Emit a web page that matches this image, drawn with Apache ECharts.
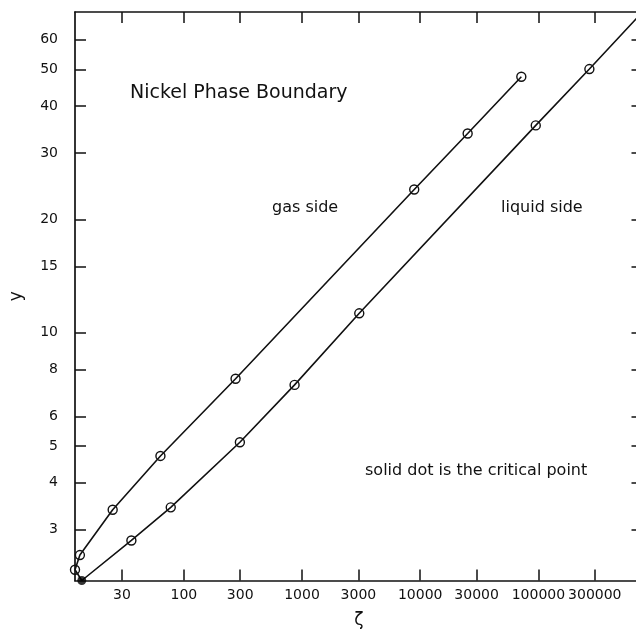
<!DOCTYPE html>
<html>
<head>
<meta charset="utf-8">
<script src="https://cdn.jsdelivr.net/npm/echarts@6/dist/echarts.min.js"></script>
<style>
  html, body { margin: 0; padding: 0; background: #fff; overflow: hidden; }
  #chart { width: 652px; height: 630px; }
</style>
</head>
<body>
<div id="chart"></div>
<script>
// Nickel phase boundary: zeta vs y, log-log
const criticalPoint = [13.7, 2.2];
const gasZeta = [12, 13.2, 25, 63.4, 274, 8900, 25200, 71700];
const gasY = [2.35, 2.57, 3.39, 4.71, 7.55, 24.0, 33.8, 47.8];
const liquidZeta = [36, 77.5, 298, 865, 3050, 95000, 270000, 760000];
const liquidY = [2.81, 3.44, 5.12, 7.27, 11.26, 35.5, 50.1, 71];
const liquidMarked = [true, true, true, true, true, true, true, false];

const xTicks = [30, 100, 300, 1000, 3000, 10000, 30000, 100000, 300000];
const yTicks = [3, 4, 5, 6, 8, 10, 15, 20, 30, 40, 50, 60];

const FONT = 'DejaVu Sans';
const INK = '#111';

const ringStyle = { color: 'rgba(0,0,0,0)', borderColor: INK, borderWidth: 1.4 };

const gasData = [{ value: criticalPoint, symbol: 'none' }].concat(
  gasZeta.map((z, i) => ({ value: [z, gasY[i]] }))
);
const liquidData = [{ value: criticalPoint, symbol: 'none' }].concat(
  liquidZeta.map((z, i) => ({ value: [z, liquidY[i]], symbol: liquidMarked[i] ? 'circle' : 'none' }))
);

function xAxisDef(pos, showLabels) {
  return {
    type: 'log', position: pos, min: 12, max: 760000,
    name: showLabels ? 'ζ' : '', nameLocation: 'middle', nameGap: 32,
    nameTextStyle: { fontFamily: FONT, fontSize: 17, color: INK },
    axisLine: { show: true, onZero: false, lineStyle: { color: INK, width: 1.7 } },
    axisTick: { show: true, inside: true, length: 11, customValues: xTicks, lineStyle: { color: INK, width: 1.5 } },
    axisLabel: { show: showLabels, customValues: xTicks, margin: 8, fontFamily: FONT, fontSize: 14, color: INK,
      formatter: v => String(Math.round(v)) },
    minorTick: { show: false }, splitLine: { show: false }
  };
}
function yAxisDef(pos, showLabels) {
  return {
    type: 'log', position: pos, min: 2.2, max: 71,
    name: showLabels ? 'y' : '', nameLocation: 'middle', nameGap: 50, nameRotate: 90,
    nameTextStyle: { fontFamily: FONT, fontSize: 17, color: INK },
    axisLine: { show: true, onZero: false, lineStyle: { color: INK, width: 1.7 } },
    axisTick: { show: true, inside: true, length: 11, customValues: yTicks, lineStyle: { color: INK, width: 1.5 } },
    axisLabel: { show: showLabels, customValues: yTicks, margin: 17, fontFamily: FONT, fontSize: 14, color: INK,
      formatter: v => String(Math.round(v)) },
    minorTick: { show: false }, splitLine: { show: false }
  };
}

const chart = echarts.init(document.getElementById('chart'), null, { renderer: 'canvas' });
chart.setOption({
  animation: false,
  backgroundColor: '#fff',
  grid: { left: 75, top: 12, right: 9.5, bottom: 49.5, containLabel: false, outerBoundsMode: 'none' },
  xAxis: [xAxisDef('bottom', true), xAxisDef('top', false)],
  yAxis: [yAxisDef('left', true), yAxisDef('right', false)],
  series: [
    {
      name: 'gas side', type: 'line', data: gasData, clip: false,
      symbol: 'circle', symbolSize: 9, showAllSymbol: true,
      lineStyle: { color: INK, width: 1.6 }, itemStyle: ringStyle, z: 3
    },
    {
      name: 'liquid side', type: 'line', data: liquidData, clip: true,
      symbol: 'circle', symbolSize: 9, showAllSymbol: true,
      lineStyle: { color: INK, width: 1.6 }, itemStyle: ringStyle, z: 3
    },
    {
      name: 'critical point', type: 'scatter', data: [criticalPoint], clip: false,
      symbol: 'circle', symbolSize: 9, itemStyle: { color: '#000' }, z: 5
    }
  ],
  graphic: [
    { type: 'text', left: 130, top: 84, style: { text: 'Nickel Phase Boundary', font: '19px "' + FONT + '"', fill: INK } },
    { type: 'text', left: 272, top: 200, style: { text: 'gas side', font: '16px "' + FONT + '"', fill: INK } },
    { type: 'text', left: 501, top: 200, style: { text: 'liquid side', font: '16px "' + FONT + '"', fill: INK } },
    { type: 'text', left: 365, top: 463, style: { text: 'solid dot is the critical point', font: '16px "' + FONT + '"', fill: INK } }
  ]
});
</script>
</body>
</html>
